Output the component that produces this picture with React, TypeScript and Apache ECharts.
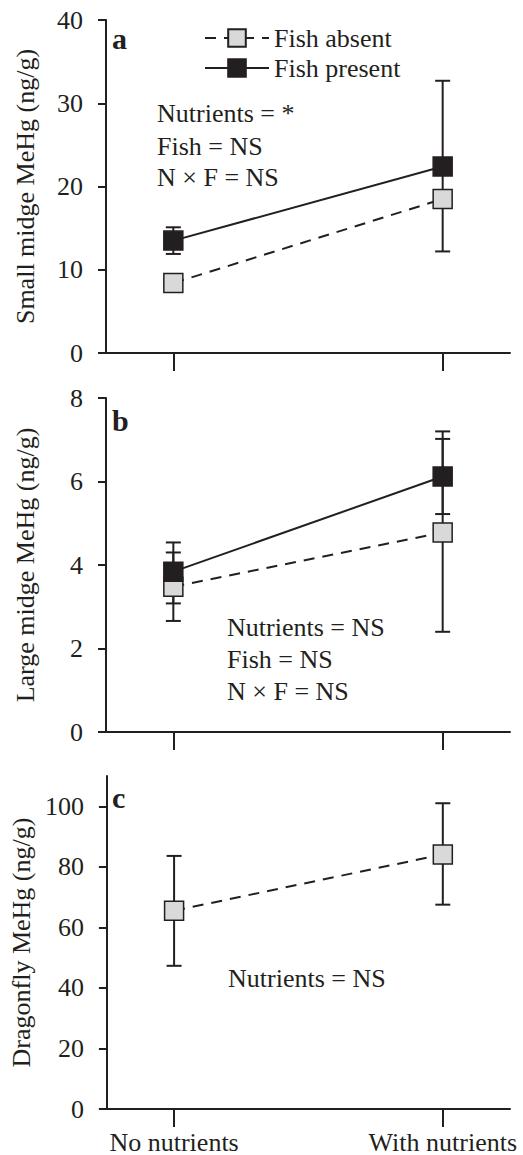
import React, { useEffect, useRef } from "react";
import * as echarts from "echarts";

const categories = ["No nutrients", "With nutrients"];
const xPositions = [0, 1];

// Panel a: small midge MeHg (ng/g)
const smallAbsent = [8.4, 18.5];
const smallPresent = [13.5, 22.4];
const smallPresentLow = [11.9, 12.2];
const smallPresentHigh = [15.1, 32.7];

// Panel b: large midge MeHg (ng/g)
const largeAbsent = [3.48, 4.78];
const largeAbsentLow = [2.66, 2.4];
const largeAbsentHigh = [4.3, 7.02];
const largePresent = [3.84, 6.12];
const largePresentLow = [3.08, 5.22];
const largePresentHigh = [4.54, 7.2];

// Panel c: dragonfly MeHg (ng/g)
const dragonfly = [65.5, 84.1];
const dragonflyLow = [47.3, 67.5];
const dragonflyHigh = [83.6, 101];

const yTicksA = [0, 10, 20, 30, 40];
const yTicksB = [0, 2, 4, 6, 8];
const yTicksC = [0, 20, 40, 60, 80, 100];

const INK = "#231f20";
const GRAY = "#d9d9d9";
const FONT = "'Liberation Serif', 'Times New Roman', serif";
const FS = 26;

const pts = (vals: number[]) => vals.map((v, i) => [xPositions[i], v]);
const errs = (lo: number[], hi: number[]) => lo.map((l, i) => [xPositions[i], l, hi[i]]);

function errorSeries(lo: number[], hi: number[], idx: number) {
  return {
    type: "custom",
    xAxisIndex: idx,
    yAxisIndex: idx,
    z: 1,
    silent: true,
    data: errs(lo, hi),
    renderItem: (params: any, api: any) => {
      const x = api.value(0);
      const p1 = api.coord([x, api.value(1)]);
      const p2 = api.coord([x, api.value(2)]);
      const hw = 7.5;
      const style = { stroke: INK, lineWidth: 2 };
      return {
        type: "group",
        children: [
          { type: "line", shape: { x1: p1[0], y1: p1[1], x2: p2[0], y2: p2[1] }, style },
          { type: "line", shape: { x1: p1[0] - hw, y1: p1[1], x2: p1[0] + hw, y2: p1[1] }, style },
          { type: "line", shape: { x1: p2[0] - hw, y1: p2[1], x2: p2[0] + hw, y2: p2[1] }, style },
        ],
      };
    },
  };
}

function lineSeries(name: string, vals: number[], idx: number, present: boolean) {
  return {
    type: "line",
    name,
    xAxisIndex: idx,
    yAxisIndex: idx,
    z: present ? 4 : 3,
    data: pts(vals),
    symbol: "rect",
    symbolSize: 19,
    itemStyle: { color: present ? INK : GRAY, borderColor: INK, borderWidth: 1.5 },
    lineStyle: { color: INK, width: 2, type: present ? "solid" : [11, 8] },
  };
}

function xAxis(idx: number, showLabels: boolean) {
  return {
    type: "value",
    gridIndex: idx,
    min: -0.25,
    max: 1.25,
    axisLine: { show: true, onZero: false, lineStyle: { color: INK, width: 2 } },
    axisTick: { show: true, customValues: xPositions, length: 18, lineStyle: { color: INK, width: 2 } },
    axisLabel: {
      show: showLabels,
      customValues: xPositions,
      margin: 20,
      color: INK,
      fontFamily: FONT,
      fontSize: FS,
      formatter: (v: number) => categories[Math.round(v)] ?? "",
    },
    splitLine: { show: false },
  };
}

function yAxis(idx: number, name: string, max: number, ticks: number[]) {
  return {
    type: "value",
    gridIndex: idx,
    min: 0,
    max,
    name,
    nameLocation: "middle",
    nameGap: 68,
    nameTextStyle: { color: INK, fontFamily: FONT, fontSize: FS },
    axisLine: { show: true, onZero: false, lineStyle: { color: INK, width: 2 } },
    axisTick: { show: true, customValues: ticks, length: 8, lineStyle: { color: INK, width: 2 } },
    axisLabel: { customValues: ticks, margin: 23, color: INK, fontFamily: FONT, fontSize: FS },
    splitLine: { show: false },
  };
}

function txt(text: string, x: number, y: number, bold = false) {
  return {
    type: "text",
    x,
    y,
    style: {
      text,
      fill: INK,
      font: `${bold ? "bold " : ""}${bold ? 30 : FS}px ${FONT}`,
      textVerticalAlign: "middle",
      textAlign: "left",
    },
  };
}

export default function App() {
  const ref = useRef<HTMLDivElement>(null);
  useEffect(() => {
    document.body.style.margin = "0";
    if (!ref.current) return;
    const chart = echarts.init(ref.current, null, { renderer: "svg" });
    chart.setOption({
      animation: false,
      backgroundColor: "#ffffff",
      grid: [
        { left: 106, width: 404, top: 20, height: 333 },
        { left: 106, width: 404, top: 398, height: 334 },
        { left: 106, width: 404, top: 776, height: 333 },
      ],
      xAxis: [xAxis(0, false), xAxis(1, false), xAxis(2, true)],
      yAxis: [
        yAxis(0, "Small midge MeHg (ng/g)", 40, yTicksA),
        yAxis(1, "Large midge MeHg (ng/g)", 8, yTicksB),
        yAxis(2, "Dragonfly MeHg (ng/g)", 110, yTicksC),
      ],
      legend: {
        data: ["Fish absent", "Fish present"],
        orient: "vertical",
        left: 199,
        top: 20,
        itemWidth: 64,
        itemHeight: 22,
        itemGap: 4,
        selectedMode: false,
        textStyle: { color: INK, fontFamily: FONT, fontSize: FS, lineHeight: 22 },
      },
      series: [
        errorSeries(smallPresentLow, smallPresentHigh, 0),
        lineSeries("Fish absent", smallAbsent, 0, false),
        lineSeries("Fish present", smallPresent, 0, true),
        errorSeries(largeAbsentLow, largeAbsentHigh, 1),
        errorSeries(largePresentLow, largePresentHigh, 1),
        lineSeries("Fish absent", largeAbsent, 1, false),
        lineSeries("Fish present", largePresent, 1, true),
        errorSeries(dragonflyLow, dragonflyHigh, 2),
        lineSeries("Dragonfly", dragonfly, 2, false),
      ],
      graphic: [
        txt("a", 112, 38, true),
        txt("Nutrients = *", 157, 113),
        txt("Fish = NS", 157, 146),
        txt("N × F = NS", 157, 177),
        txt("b", 112, 420, true),
        txt("Nutrients = NS", 227, 627),
        txt("Fish = NS", 227, 659),
        txt("N × F = NS", 227, 691),
        txt("c", 112, 797, true),
        txt("Nutrients = NS", 228, 978),
      ],
    });
    return () => chart.dispose();
  }, []);
  return <div ref={ref} style={{ width: 523, height: 1155 }} />;
}
